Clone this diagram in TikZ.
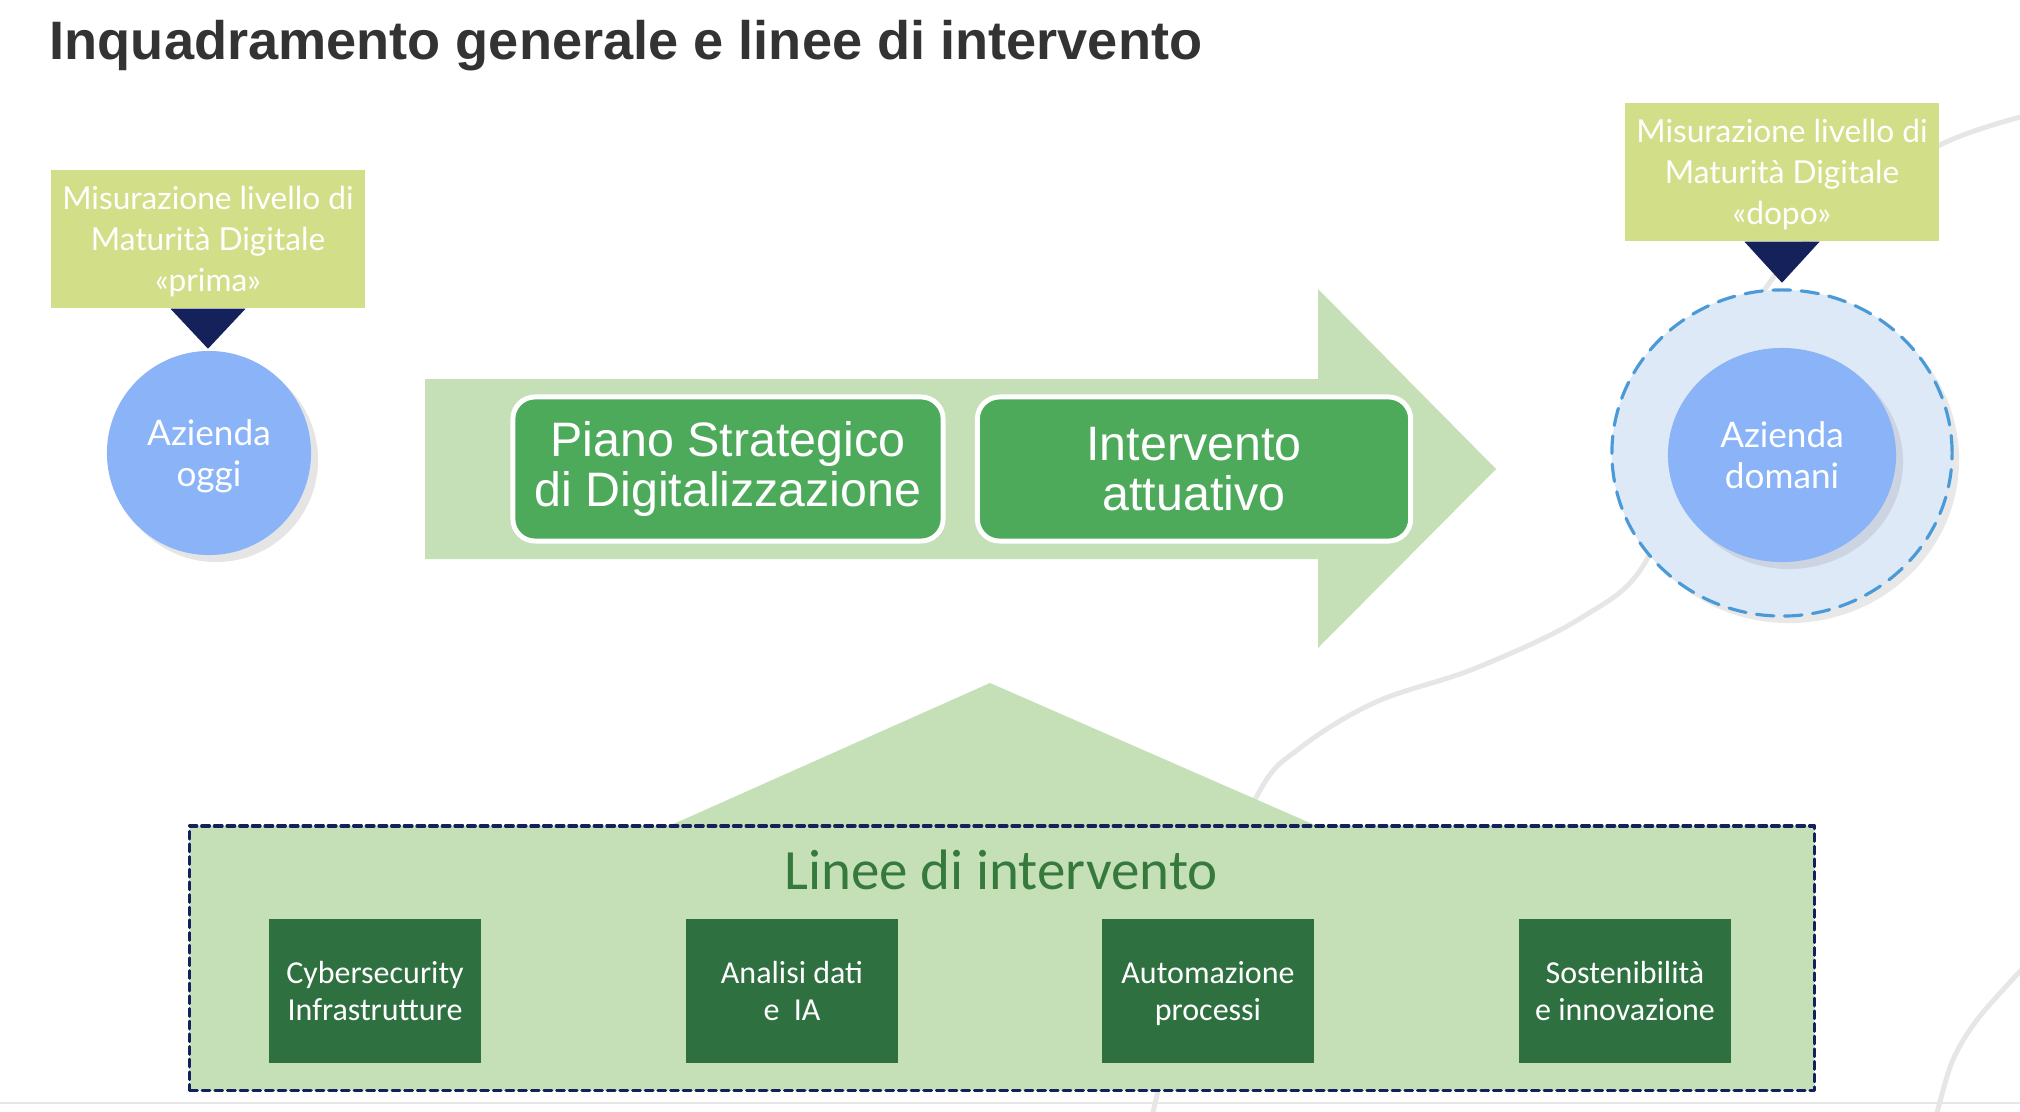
\documentclass[tikz,border=0pt]{standalone}
\usepackage{fontspec}
\setmainfont{Liberation Sans}
\newfontfamily\lato{Lato}
\newfontfamily\carlito{Carlito}
\usetikzlibrary{shapes.geometric,shadows}
\definecolor{titlegray}{HTML}{333333}
\definecolor{limebox}{HTML}{D3DF88}
\definecolor{navy}{HTML}{14215A}
\definecolor{azblue}{HTML}{8AB4F7}
\definecolor{haloblue}{HTML}{DEE9F8}
\definecolor{halodash}{HTML}{4A9AD8}
\definecolor{palegreen}{HTML}{C5E0B6}
\definecolor{stepgreen}{HTML}{4EAA5B}
\definecolor{linegreen}{HTML}{357A3C}
\definecolor{darkgreen}{HTML}{2F7040}
\definecolor{swoosh}{HTML}{E6E6E6}
\newcommand{\nodepth}[1]{\raisebox{0pt}[\height][0pt]{#1}}
\begin{document}
\begin{tikzpicture}[x=0.01cm, y=-0.01cm, line join=round, line cap=round,
	misura/.style={fill=limebox, text=white, align=center, minimum width=31.4mm, minimum height=13.8mm, inner sep=0pt, font=\lato\fontsize{9pt}{11.6pt}\selectfont},
	azienda/.style={circle, fill=azblue, text=white, align=center, minimum size=20.4mm, inner sep=0pt, font=\lato\fontsize{10pt}{11.7pt}\selectfont, drop shadow={shadow xshift=0.7mm, shadow yshift=-0.7mm, opacity=0.2}},
	fase/.style={rounded corners=2.2mm, fill=stepgreen, draw=white, line width=1.4pt, text=white, align=center, minimum height=14.4mm, inner sep=0pt, font=\fontsize{13.75pt}{14.2pt}\selectfont},
	linea/.style={fill=darkgreen, text=white, align=center, minimum width=21.1mm, minimum height=14.3mm, inner sep=0pt, font=\carlito\fontsize{9.1pt}{10.5pt}\selectfont}]
	\useasboundingbox (0,0) rectangle (2020,1112);
	\fill[white] (0,0) rectangle (2020,1112);
	\begin{scope}
		\clip (0,0) rectangle (2020,1112);
		\draw[swoosh, line width=1.4pt] plot[smooth, tension=0.6] coordinates {(2040,112) (1940,145) (1840,215) (1770,282) (1690,430) (1646,561) (1581,618) (1476,668) (1376,702) (1300,748) (1258,794) (1200,930) (1150,1125)};
		\draw[swoosh, line width=1.4pt] plot[smooth] coordinates {(2040,950) (1980,1016) (1952,1062) (1934,1125)};
		\draw[swoosh, line width=0.6pt] (0,1103) -- (2020,1103);
	\end{scope}
	\node[anchor=base west, inner sep=0pt, text=titlegray, font=\bfseries\fontsize{15.4pt}{18pt}\selectfont] (titolo) at (49,60) {Inquadramento generale e linee di intervento};
	\path
	(425,379) coordinate (A1)
	(1318,379) coordinate (A2)
	(1318,289) coordinate (A3)
	(1496,469) coordinate (A4)
	(1318,648) coordinate (A5)
	(1318,559) coordinate (A6)
	(425,559) coordinate (A7);
	\fill[palegreen] (A1)--(A2)--(A3)--(A4)--(A5)--(A6)--(A7)--cycle;
	\node[fase, minimum width=43mm] (piano) at (728,469) {Piano Strategico\\di Digitalizzazione};
	\node[fase, minimum width=43.3mm] (attua) at (1194,469) {Intervento\\attuativo};
	\path
	(669,826) coordinate (T1)
	(990,683) coordinate (T2)
	(1317,826) coordinate (T3);
	\fill[palegreen] (T1)--(T2)--(T3)--cycle;
	\node[draw=navy, fill=palegreen, dash pattern=on 2.2pt off 1.4pt, line width=0.9pt, minimum width=162.4mm, minimum height=26.4mm, inner sep=0pt] (linee) at (1002,958) {};
	\node[anchor=base, inner sep=0pt, text=linegreen, font=\carlito\fontsize{16.2pt}{18pt}\selectfont] (titlinee) at (1001,889) {Linee di intervento};
	\foreach \n/\x/\t in {cyber/375/{Cybersecurity\\Infrastrutture}, dati/792/{Analisi dati\\e~~IA}, auto/1208/{Automazione\\\nodepth{processi}}, soste/1625/{Sostenibilità\\e innovazione}}
	\node[linea] (\n) at (\x,991) {\t};
	\node[misura] (prima) at (208,239) {Misurazione livello di\\Maturità Digitale\\\nodepth{«prima»}};
	\node[misura] (dopo) at (1782,172) {Misurazione livello di\\Maturità Digitale\\\nodepth{«dopo»}};
	\fill[navy] (prima.south) ++(-37.5,0) -- ++(75,0) -- ++(-37.5,40) -- cycle;
	\fill[navy] (dopo.south) ++(-37.5,0) -- ++(75,0) -- ++(-37.5,41) -- cycle;
	\node[azienda] (oggi) at (209,453) {Azienda\\\nodepth{oggi}};
	\node[ellipse, fill=haloblue, draw=halodash, dash pattern=on 5pt off 3pt, line width=0.9pt, minimum width=34mm, minimum height=32.6mm, inner sep=0pt, drop shadow={shadow xshift=0.7mm, shadow yshift=-0.7mm, opacity=0.18}] (alone) at (1782,453) {};
	\node[azienda, ellipse, minimum width=22.8mm, minimum height=21.4mm] (domani) at (1782,455) {Azienda\\domani};
\end{tikzpicture}
\end{document}
